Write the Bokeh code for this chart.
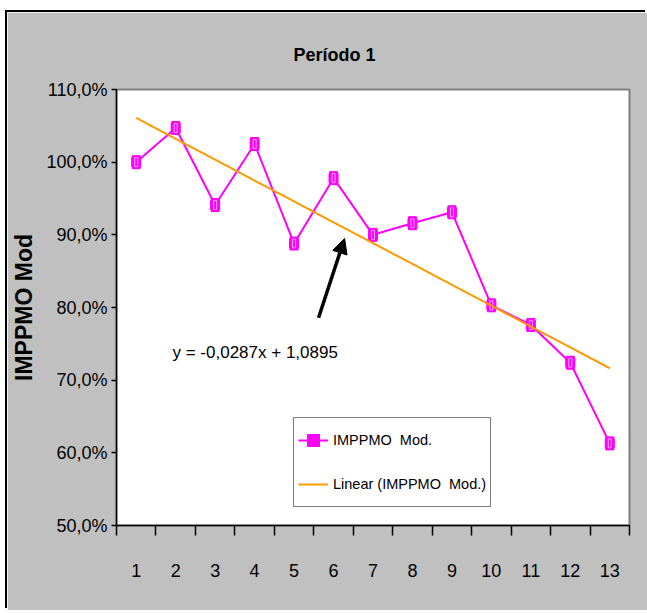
from bokeh.plotting import figure
from bokeh.models import FixedTicker, Label, Arrow, NormalHead, Legend, LegendItem, Range1d
from bokeh.embed import file_html
from bokeh.resources import INLINE

# ---------------- data ----------------
title_text = "Período 1"
y_title = "IMPPMO Mod"
periods = [1, 2, 3, 4, 5, 6, 7, 8, 9, 10, 11, 12, 13]
period_labels = ["1", "2", "3", "4", "5", "6", "7", "8", "9", "10", "11", "12", "13"]
imppmo_mod = [100.0, 104.7, 94.1, 102.5, 88.8, 97.8, 90.0, 91.6, 93.1, 80.3, 77.6, 72.4, 61.3]
trend_slope = -0.0287
trend_intercept = 1.0895
equation_text = "y = -0,0287x + 1,0895"
y_ticks = [50, 60, 70, 80, 90, 100, 110]
y_tick_labels = ["50,0%", "60,0%", "70,0%", "80,0%", "90,0%", "100,0%", "110,0%"]
series_name = "IMPPMO  Mod."
trend_name = "Linear (IMPPMO  Mod.)"

trend_values = [(trend_slope * x + trend_intercept) * 100 for x in periods]

# ---------------- style ----------------
FONT = "Liberation Sans"
MAG = "#FF00FF"
ORANGE = "#FF9900"
GRAY = "#C0C0C0"

p = figure(
    width=640, height=598,
    min_border_left=109, min_border_right=18, min_border_top=77, min_border_bottom=85,
    x_range=Range1d(0.5, 13.5), y_range=Range1d(50, 110),
    output_backend="svg", toolbar_location=None,
    border_fill_color=GRAY, background_fill_color="white",
    outline_line_color="#808080", outline_line_width=2,
    margin=(12, 0, 0, 7),
    styles={"box-shadow": "-2px -2px 0px 0px #000000", "vertical-align": "top"},
)
p.xgrid.visible = False
p.ygrid.visible = False

# title
p.title.text = title_text
p.title.align = "left"
p.title.offset = 177
p.title.standoff = 49
p.title.text_font = FONT
p.title.text_font_size = "18px"
p.title.text_font_style = "bold"
p.title.text_color = "black"

# x axis: labels at categories, tick marks at category boundaries
p.xaxis.ticker = FixedTicker(ticks=periods, minor_ticks=[i + 0.5 for i in range(0, 14)])
p.xaxis.major_label_overrides = dict(zip(periods, period_labels))
p.xaxis.major_tick_out = 0
p.xaxis.major_tick_in = 0
p.xaxis.minor_tick_out = 10
p.xaxis.minor_tick_in = 0
p.xaxis.minor_tick_line_color = "black"
p.xaxis.minor_tick_line_width = 1.5
p.xaxis.major_label_standoff = 28

p.yaxis.ticker = FixedTicker(ticks=y_ticks)
p.yaxis.major_label_overrides = dict(zip(y_ticks, y_tick_labels))
p.yaxis.major_tick_out = 5
p.yaxis.major_tick_in = 0
p.yaxis.minor_tick_line_color = None
p.yaxis.major_label_standoff = 4
p.yaxis.axis_label = y_title
p.yaxis.axis_label_text_font = FONT
p.yaxis.axis_label_text_font_size = "23px"
p.yaxis.axis_label_text_font_style = "bold"
p.yaxis.axis_label_text_color = "black"
p.yaxis.axis_label_standoff = 6

for ax in (p.xaxis, p.yaxis):
    ax.axis_line_color = "black"
    ax.axis_line_width = 1.5
    ax.major_tick_line_color = "black"
    ax.major_tick_line_width = 1.5
    ax.major_label_text_font = FONT
    ax.major_label_text_font_size = "18px"
    ax.major_label_text_color = "black"

# ---------------- glyphs ----------------
line_r = p.line(periods, imppmo_mod, line_color=MAG, line_width=2)
sq_r = p.scatter(periods, imppmo_mod, marker="square", size=9, fill_color=MAG, line_color=MAG)
p.rect(periods, imppmo_mod, width=8, height=13, width_units="screen", height_units="screen",
       fill_color=MAG, line_color=MAG)
p.rect(periods, imppmo_mod, width=3, height=9, width_units="screen", height_units="screen",
       fill_alpha=0, line_color="#FFA8FF", line_width=1)
trend_r = p.line(periods, trend_values, line_color=ORANGE, line_width=2)

legend = Legend(
    items=[LegendItem(label=series_name, renderers=[line_r, sq_r]),
           LegendItem(label=trend_name, renderers=[trend_r])],
    location=(177, 18), margin=0, padding=4, spacing=8,
    glyph_width=30, glyph_height=36, label_height=36, label_standoff=5,
    label_text_font=FONT, label_text_font_size="14.5px", label_text_color="black",
    border_line_color="black", border_line_width=1.5,
    background_fill_color="white", background_fill_alpha=1.0,
)
p.add_layout(legend)

# ---------------- annotations ----------------
p.add_layout(Label(x=56, y=173, x_units="screen", y_units="screen", text=equation_text,
                   text_font=FONT, text_font_size="17px", text_align="left",
                   text_baseline="middle", text_color="black"))

p.add_layout(Arrow(end=NormalHead(size=15, fill_color="black", line_color="black"),
                   x_start=5.62, y_start=78.6, x_end=6.28, y_end=89.5,
                   line_width=3.5, line_color="black"))

open("out.html", "w").write(file_html(p, INLINE))
